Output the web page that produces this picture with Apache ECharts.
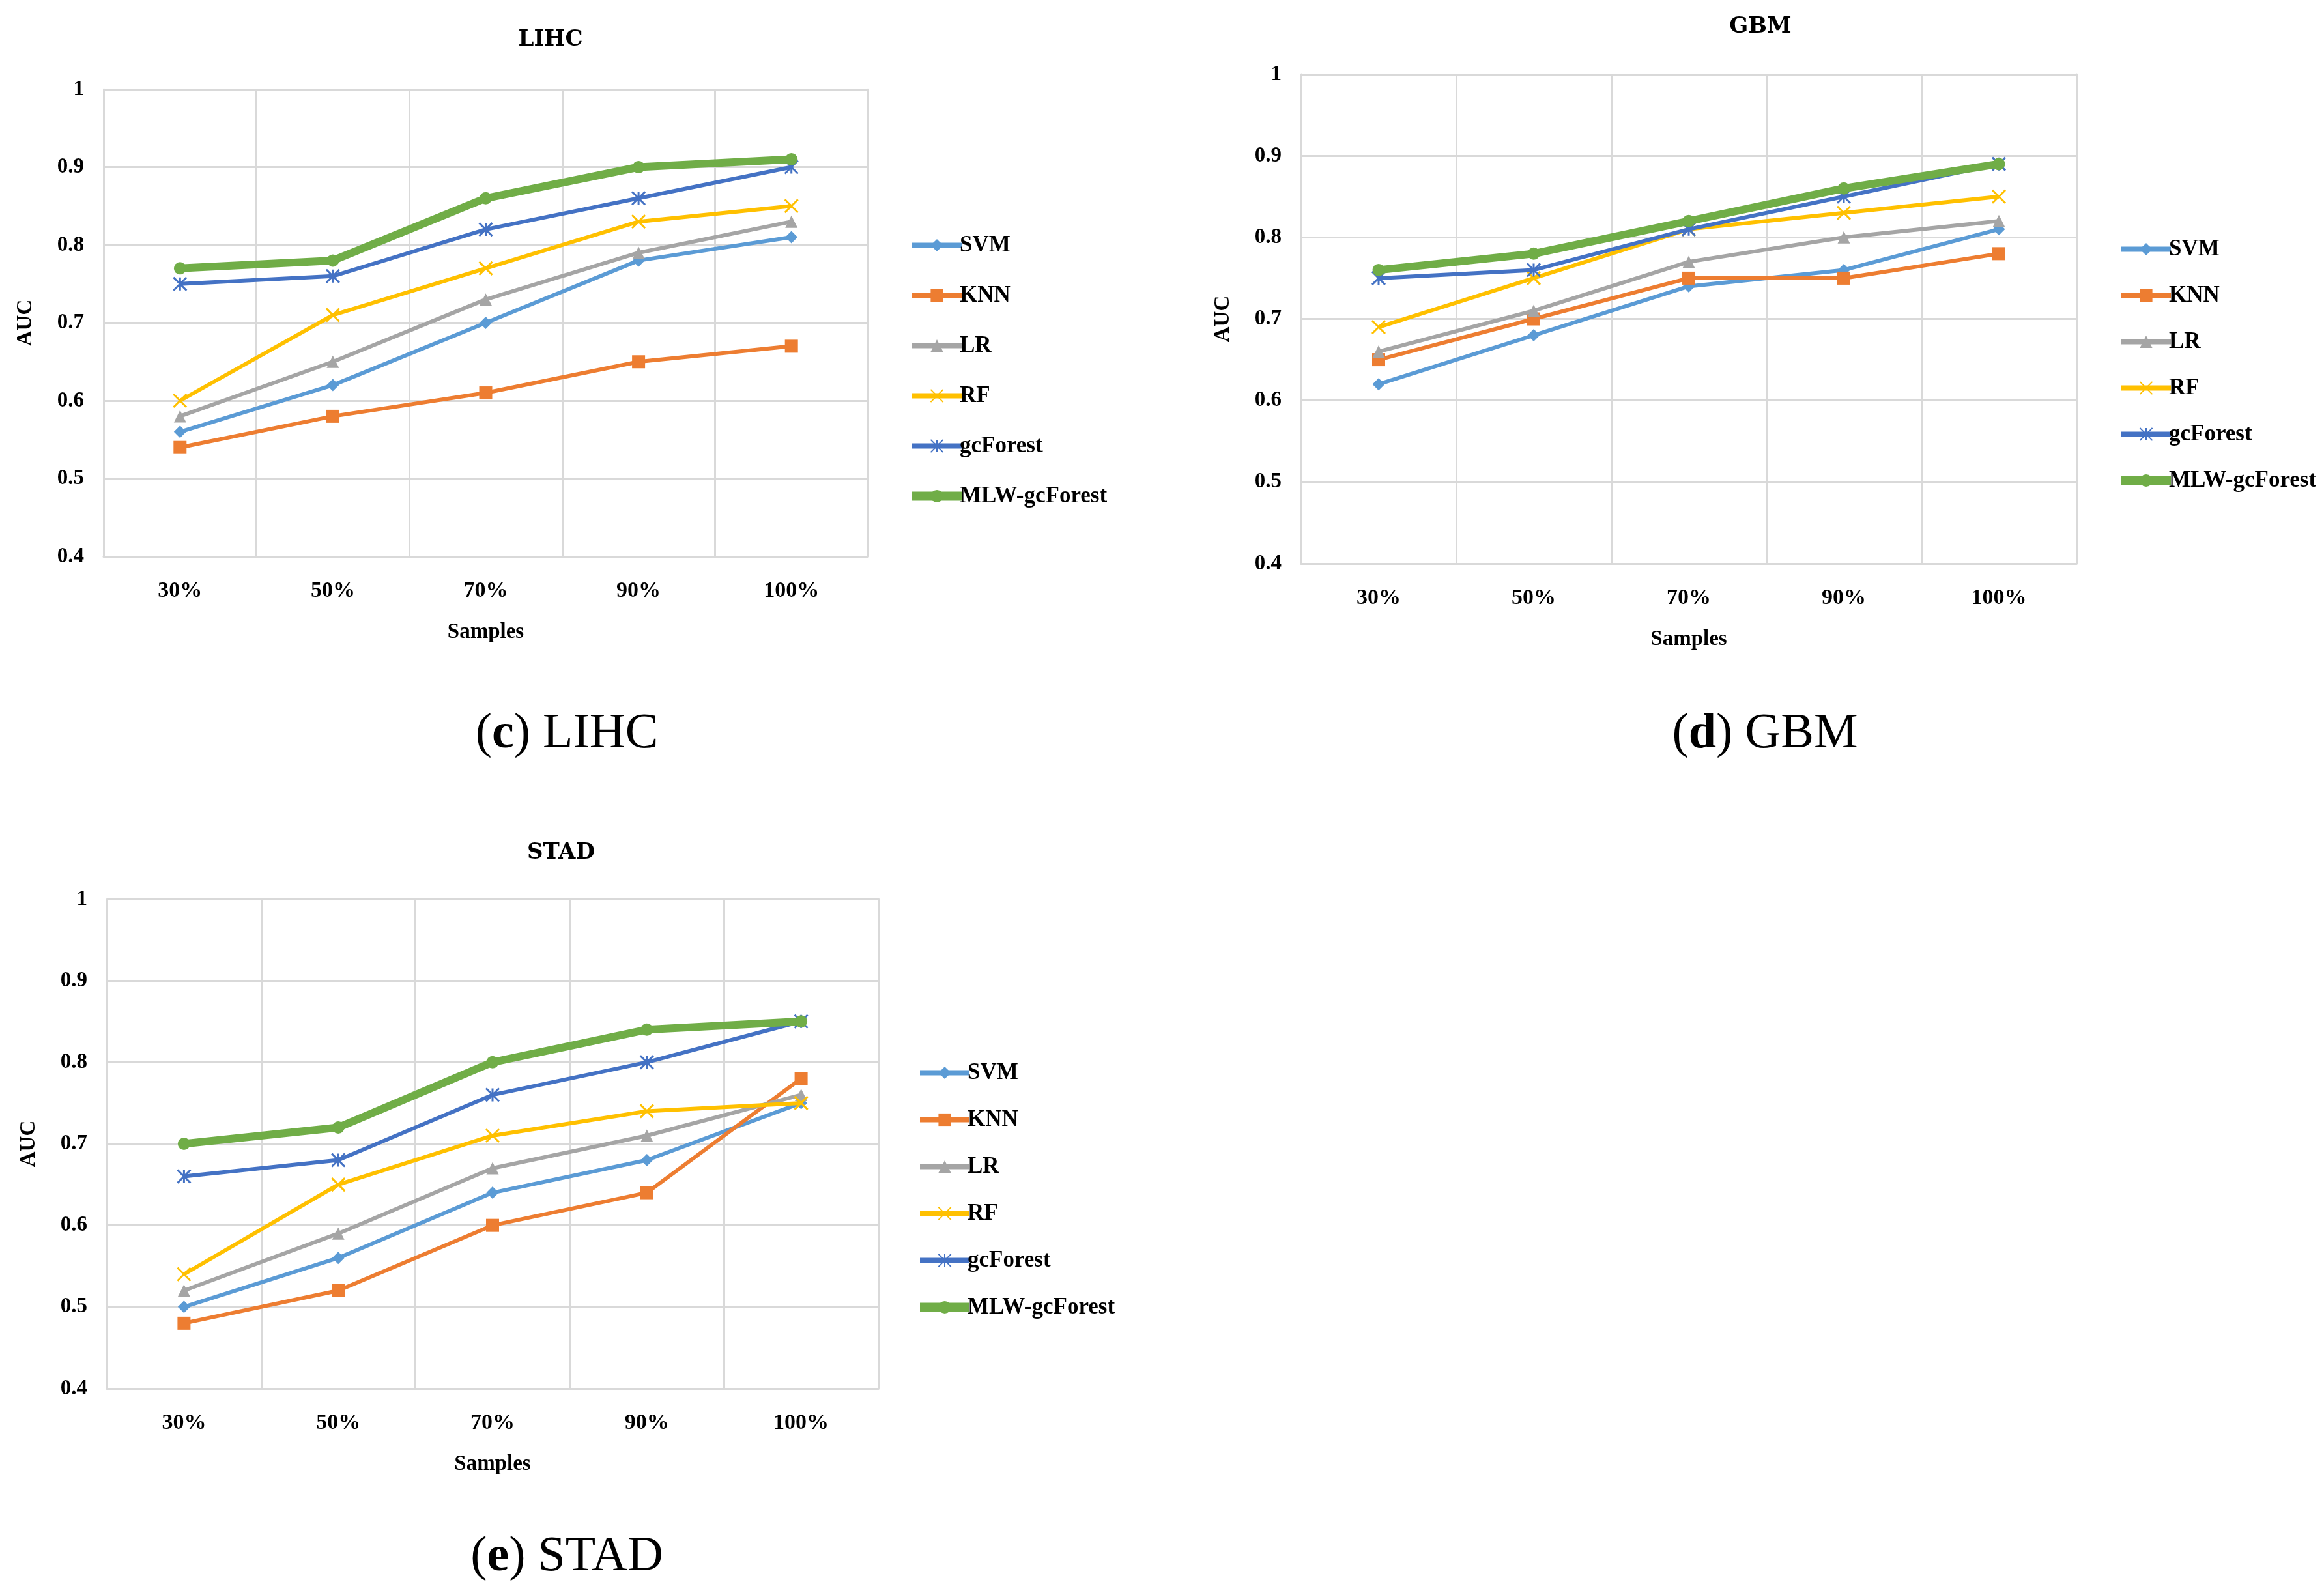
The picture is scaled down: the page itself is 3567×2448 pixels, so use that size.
<!DOCTYPE html>
<html><head><meta charset="utf-8">
<script src="https://cdn.jsdelivr.net/npm/echarts@6/dist/echarts.min.js"></script>
<style>html,body{margin:0;padding:0;background:#fff}#c{width:3567px;height:2448px}</style>
</head><body><div id="c"></div>
<script>
const categories = ['30%', '50%', '70%', '90%', '100%'];
const seriesNames = ['SVM', 'KNN', 'LR', 'RF', 'gcForest', 'MLW-gcForest'];
const yTicks = { min: 0.4, max: 1, interval: 0.1 };

// LIHC
const lihcSVM = [0.56, 0.62, 0.70, 0.78, 0.81];
const lihcKNN = [0.54, 0.58, 0.61, 0.65, 0.67];
const lihcLR = [0.58, 0.65, 0.73, 0.79, 0.83];
const lihcRF = [0.60, 0.71, 0.77, 0.83, 0.85];
const lihcGC = [0.75, 0.76, 0.82, 0.86, 0.90];
const lihcMLW = [0.77, 0.78, 0.86, 0.90, 0.91];
// GBM
const gbmSVM = [0.62, 0.68, 0.74, 0.76, 0.81];
const gbmKNN = [0.65, 0.70, 0.75, 0.75, 0.78];
const gbmLR = [0.66, 0.71, 0.77, 0.80, 0.82];
const gbmRF = [0.69, 0.75, 0.81, 0.83, 0.85];
const gbmGC = [0.75, 0.76, 0.81, 0.85, 0.89];
const gbmMLW = [0.76, 0.78, 0.82, 0.86, 0.89];
// STAD
const stadSVM = [0.50, 0.56, 0.64, 0.68, 0.75];
const stadKNN = [0.48, 0.52, 0.60, 0.64, 0.78];
const stadLR = [0.52, 0.59, 0.67, 0.71, 0.76];
const stadRF = [0.54, 0.65, 0.71, 0.74, 0.75];
const stadGC = [0.66, 0.68, 0.76, 0.80, 0.85];
const stadMLW = [0.70, 0.72, 0.80, 0.84, 0.85];

const panels = [
  { title: 'LIHC', cap: 'c', data: [lihcSVM, lihcKNN, lihcLR, lihcRF, lihcGC, lihcMLW],
    grid: { left: 159, top: 137, width: 1173, height: 717 },
    legend: { left: 1393, top: 359 }, legendGap: 42,
    titlePos: [845, 61], capPos: [870, 1127] },
  { title: 'GBM', cap: 'd', data: [gbmSVM, gbmKNN, gbmLR, gbmRF, gbmGC, gbmMLW],
    grid: { left: 1997, top: 114, width: 1190, height: 751 },
    legend: { left: 3249, top: 365 }, legendGap: 36,
    titlePos: [2702, 41], capPos: [2709, 1127] },
  { title: 'STAD', cap: 'e', data: [stadSVM, stadKNN, stadLR, stadRF, stadGC, stadMLW],
    grid: { left: 164, top: 1380, width: 1184, height: 751 },
    legend: { left: 1405, top: 1629 }, legendGap: 37,
    titlePos: [861, 1309], capPos: [870, 2390] }
];

const colors = ['#5B9BD5', '#ED7D31', '#A5A5A5', '#FFC000', '#4472C4', '#70AD47'];
const symbols = ['diamond', 'rect', 'triangle',
  'path://M0,0L10,10M10,0L0,10',
  'path://M0,0L10,10M10,0L0,10M5,0L5,10',
  'circle'];
const symbolSizes = [19, 20, 19, 20, 20, 19];
const lineWidths = [6, 6, 6, 6, 6, 12];
const FONT = '"Liberation Serif", "DejaVu Serif", serif';
const gridColor = '#D9D9D9';

const option = { animation: false, backgroundColor: '#fff', grid: [], xAxis: [], yAxis: [], legend: [], series: [], graphic: [] };

panels.forEach((p, i) => {
  option.grid.push(Object.assign({ containLabel: false }, p.grid));
  option.xAxis.push({
    type: 'category', gridIndex: i, data: categories, boundaryGap: true,
    name: 'Samples', nameLocation: 'middle', nameGap: 100,
    nameTextStyle: { fontFamily: FONT, fontWeight: 'bold', fontSize: 33, color: '#000' },
    axisLine: { show: true, lineStyle: { color: gridColor, width: 3 } },
    axisTick: { show: false },
    axisLabel: { fontFamily: FONT, fontWeight: 'bold', fontSize: 34, color: '#000', margin: 36 },
    splitLine: { show: true, lineStyle: { color: gridColor, width: 3 } }
  });
  option.yAxis.push({
    type: 'value', gridIndex: i, min: yTicks.min, max: yTicks.max, interval: yTicks.interval,
    name: 'AUC', nameLocation: 'middle', nameGap: 103, nameRotate: 90,
    nameTextStyle: { fontFamily: FONT, fontWeight: 'bold', fontSize: 33, color: '#000' },
    axisLine: { show: true, lineStyle: { color: gridColor, width: 3 } },
    axisTick: { show: false },
    axisLabel: { fontFamily: FONT, fontWeight: 'bold', fontSize: 33, color: '#000', margin: 30 },
    splitLine: { show: true, lineStyle: { color: gridColor, width: 3 } }
  });
  // right border
  option.yAxis.push({
    type: 'value', gridIndex: i, min: yTicks.min, max: yTicks.max, position: 'right',
    axisLine: { show: true, lineStyle: { color: gridColor, width: 3 } },
    axisTick: { show: false }, axisLabel: { show: false }, splitLine: { show: false }
  });
  option.legend.push({
    orient: 'vertical', left: p.legend.left, top: p.legend.top, padding: 0,
    itemWidth: 76, itemHeight: 24, itemGap: p.legendGap,
    data: seriesNames.map((n, k) => ({
      name: n,
      lineStyle: { width: k === 5 ? 14 : 8, color: colors[k] },
      itemStyle: { color: colors[k] }
    })),
    textStyle: { fontFamily: FONT, fontWeight: 'bold', fontSize: 35, color: '#000', padding: [0, 0, 0, -8] }
  });
  seriesNames.forEach((n, k) => {
    const isOpen = k === 3 || k === 4;
    option.series.push({
      name: n, type: 'line', xAxisIndex: i, yAxisIndex: i * 2,
      data: p.data[k], symbol: symbols[k], symbolSize: symbolSizes[k], showSymbol: true,
      z: k === 5 ? 10 : 3 + k,
      lineStyle: { color: colors[k], width: lineWidths[k] },
      itemStyle: isOpen ? { color: colors[k], borderColor: colors[k], borderWidth: 3 } : { color: colors[k] }
    });
  });
  option.graphic.push({
    type: 'text', x: p.titlePos[0], y: p.titlePos[1],
    style: { text: p.title, font: 'bold 34px "DejaVu Serif", serif', fill: '#000', textAlign: 'center', textVerticalAlign: 'middle' }
  });
  option.graphic.push({
    type: 'text', x: p.capPos[0], y: p.capPos[1],
    style: {
      text: '({b|' + p.cap + '}) ' + p.title,
      font: '76px ' + FONT, fill: '#000', textAlign: 'center', textVerticalAlign: 'middle',
      rich: { b: { fontFamily: FONT, fontWeight: 'bold', fontSize: 76, fill: '#000' } }
    }
  });
});

const chart = echarts.init(document.getElementById('c'));
chart.setOption(option);
</script></body></html>
